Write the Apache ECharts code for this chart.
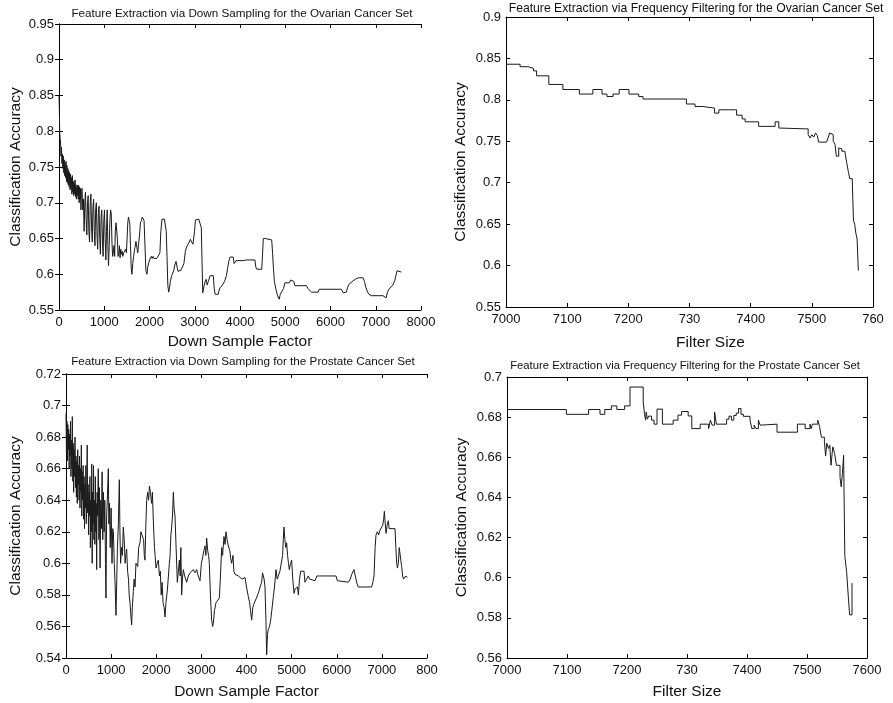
<!DOCTYPE html>
<html>
<head>
<meta charset="utf-8">
<script src="https://cdn.jsdelivr.net/npm/echarts@6/dist/echarts.min.js"></script>
<style>
	html, body { margin: 0; padding: 0; background: #fff; }
	#chart { width: 893px; height: 703px; }
</style>
</head>
<body>
<div id="chart"></div>
<script>
	// ---- ovarian, down sampling (top left)
	var ovDsX = [0, 8, 15, 25, 35, 45, 55, 65, 75, 85, 95, 105, 115, 125, 135, 145, 155, 165, 175, 185, 195,
		205, 215, 225, 235, 245, 255, 265, 275, 285, 295, 305, 315, 325, 335, 345, 355, 365, 375, 385, 395,
		405, 415, 425, 435, 445, 455, 465, 475, 485, 495,
		510, 525, 540, 555, 570, 585, 600, 615, 630, 645, 660, 675, 690, 705, 720, 735, 750, 765, 780, 795,
		810, 825, 840, 855, 870, 885, 900, 915, 930, 945, 960, 975, 990, 1005, 1020, 1035, 1050, 1065, 1080, 1094,
		1110, 1125, 1140, 1155, 1170, 1185, 1200, 1215, 1230, 1245, 1260, 1275, 1290, 1305, 1320, 1335, 1350, 1365,
		1380, 1395, 1410, 1430, 1450, 1470, 1490, 1505, 1520, 1535, 1550, 1565, 1580, 1595, 1611, 1630, 1650, 1670,
		1685, 1700, 1720, 1740, 1760, 1780, 1800, 1820, 1840, 1860, 1880, 1900, 1920, 1944, 1960, 1980, 2000, 2020,
		2040, 2060, 2080, 2100, 2128, 2160, 2200, 2230, 2250, 2276, 2300, 2330, 2350, 2370, 2387, 2405, 2424, 2445,
		2460, 2490, 2510, 2535, 2560, 2586, 2610, 2630, 2660, 2700, 2734, 2760, 2793, 2820, 2850, 2880, 2904, 2930,
		2960, 2978, 2995, 3015, 3050, 3090, 3126, 3145, 3160, 3177, 3206, 3230, 3250, 3275, 3300, 3340, 3380, 3410,
		3430, 3450, 3520, 3540, 3560, 3600, 3630, 3660, 3700, 3730, 3760, 3780, 3850, 3870, 3890, 3910, 4070, 4090,
		4110, 4150, 4330, 4350, 4370, 4480, 4500, 4515, 4560, 4590, 4700, 4720, 4735, 4760, 4794, 4830, 4850, 4867,
		4890, 4920, 4960, 4992, 5090, 5120, 5160, 5190, 5213, 5470, 5500, 5580, 5727, 5750, 6240, 6280, 6350, 6380,
		6410, 6450, 6500, 6550, 6610, 6720, 6750, 6780, 6820, 6850, 6900, 7160, 7230, 7260, 7290, 7370, 7420, 7470,
		7510, 7565];
	var ovDsY = [0.85, 0.83, 0.80, 0.79, 0.785, 0.765, 0.778, 0.755, 0.768, 0.748, 0.765, 0.742, 0.76, 0.738, 0.755, 0.735, 0.758, 0.73, 0.752, 0.728, 0.748,
		0.725, 0.745, 0.722, 0.742, 0.718, 0.74, 0.72, 0.735, 0.712, 0.738, 0.715, 0.73, 0.71, 0.728, 0.712, 0.732, 0.708, 0.725, 0.705, 0.722,
		0.71, 0.725, 0.705, 0.724, 0.70, 0.722, 0.705, 0.72, 0.69, 0.716,
		0.72, 0.69, 0.705, 0.66, 0.70, 0.715, 0.675, 0.655, 0.70, 0.71, 0.66, 0.645, 0.70, 0.712, 0.665, 0.645, 0.695, 0.705, 0.66, 0.64,
		0.69, 0.70, 0.655, 0.635, 0.685, 0.695, 0.65, 0.628, 0.68, 0.69, 0.645, 0.625, 0.675, 0.69, 0.65, 0.62, 0.66, 0.69, 0.64, 0.612,
		0.64, 0.675, 0.69, 0.685, 0.645, 0.625, 0.63, 0.64, 0.625, 0.66, 0.672, 0.674, 0.65, 0.625, 0.628, 0.64, 0.623, 0.635,
		0.628, 0.632, 0.625, 0.63, 0.628, 0.635, 0.63, 0.65, 0.672, 0.68, 0.681, 0.67, 0.64, 0.61, 0.60, 0.615, 0.625, 0.635,
		0.639, 0.646, 0.646, 0.63, 0.632, 0.655, 0.672, 0.675, 0.68, 0.681, 0.675, 0.64, 0.605, 0.60, 0.61, 0.611, 0.62, 0.618,
		0.625, 0.622, 0.625, 0.622, 0.624, 0.622, 0.623, 0.63, 0.66, 0.677, 0.678, 0.677, 0.675, 0.66, 0.625, 0.585, 0.575, 0.582,
		0.59, 0.598, 0.60, 0.605, 0.613, 0.618, 0.61, 0.604, 0.606, 0.606, 0.607, 0.615, 0.632, 0.638, 0.642, 0.645, 0.649, 0.645,
		0.642, 0.642, 0.66, 0.676, 0.678, 0.677, 0.676, 0.665, 0.62, 0.574, 0.584, 0.59, 0.593, 0.585, 0.59, 0.598, 0.596, 0.598,
		0.58, 0.572, 0.572, 0.578, 0.581, 0.584, 0.584, 0.59, 0.598, 0.61, 0.62, 0.624, 0.624, 0.615, 0.614, 0.619, 0.619, 0.617,
		0.618, 0.62, 0.62, 0.61, 0.607, 0.607, 0.63, 0.65, 0.65, 0.648, 0.648, 0.63, 0.612, 0.59, 0.579, 0.57, 0.568, 0.565,
		0.572, 0.574, 0.58, 0.588, 0.588, 0.592, 0.594, 0.59, 0.584, 0.584, 0.58, 0.575, 0.575, 0.579, 0.579, 0.574, 0.575, 0.582,
		0.586, 0.588, 0.591, 0.593, 0.595, 0.595, 0.59, 0.582, 0.575, 0.572, 0.57, 0.57, 0.567, 0.575, 0.579, 0.584, 0.591, 0.605,
		0.607, 0.603];
	var ovDsXTicks = ['0', '1000', '2000', '3000', '4000', '5000', '6000', '7000', '8000'];
	var ovDsYTicks = ['0.55', '0.6', '0.65', '0.7', '0.75', '0.8', '0.85', '0.9', '0.95'];

	// ---- ovarian, frequency filtering (top right), step values
	var ovFfX = [7000, 7023, 7036, 7045, 7050, 7070, 7093, 7120, 7142, 7157, 7165, 7175, 7185, 7201, 7217, 7224, 7295, 7309,
		7322, 7341, 7348, 7364, 7377, 7386, 7391, 7413, 7440, 7446, 7448, 7490, 7494, 7497, 7500, 7503, 7506, 7509, 7511,
		7524, 7527, 7529, 7532, 7535, 7538, 7540, 7542, 7544, 7546, 7549, 7554, 7557, 7560, 7562, 7566, 7568, 7570, 7572,
		7574, 7576];
	var ovFfY = [0.843, 0.84, 0.838, 0.835, 0.829, 0.8186, 0.8125, 0.807, 0.8125, 0.807, 0.804, 0.807, 0.8125, 0.807, 0.804, 0.801, 0.795, 0.792,
		0.79, 0.784, 0.788, 0.788, 0.7815, 0.777, 0.7735, 0.768, 0.7735, 0.766, 0.765, 0.765, 0.758, 0.754, 0.758, 0.755, 0.76, 0.757, 0.749,
		0.749, 0.755, 0.76, 0.758, 0.75, 0.746, 0.732, 0.732, 0.742, 0.741, 0.738, 0.736, 0.724, 0.712, 0.705, 0.703, 0.655, 0.65, 0.639,
		0.632, 0.594];
	var ovFfXTicks = ['7000', '7100', '7200', '730', '7400', '7500', '760'];
	var ovFfYTicks = ['0.55', '0.6', '0.65', '0.7', '0.75', '0.8', '0.85', '0.9'];

	// ---- prostate, down sampling (bottom left)
	var prDsX = [0, 10, 20, 30, 40, 50, 60, 70, 80, 90, 100, 110, 120, 130, 140, 150, 160, 170, 180, 190,
		200, 210, 220, 230, 240, 250, 260, 270, 280, 290, 300, 310, 320, 330, 340, 350, 360, 370, 380, 390,
		400, 410, 420, 430, 440, 450, 460, 470, 480, 490, 500, 510, 520, 530, 540, 550, 560, 570, 580, 590,
		600, 610, 620, 630, 640, 650, 660, 670, 680, 690, 700, 715, 730, 740, 755, 770, 785, 800, 815, 830,
		845, 860, 875, 886, 900, 915, 938, 950, 965, 980, 1000, 1020, 1035, 1050, 1070, 1090, 1108, 1125, 1140, 1160,
		1182, 1195, 1210, 1230, 1250, 1270, 1290, 1310, 1325, 1344, 1365, 1385, 1400, 1418, 1440, 1455, 1470, 1492, 1510, 1530,
		1550, 1566, 1590, 1610, 1640, 1660, 1692, 1720, 1735, 1750, 1770, 1788, 1810, 1830, 1850, 1870, 1898, 1915, 1935, 1960,
		1975, 1995, 2020, 2046, 2070, 2090, 2110, 2130, 2150, 2175, 2194, 2215, 2246, 2270, 2290, 2305, 2325, 2342, 2360, 2379,
		2395, 2416, 2440, 2467, 2490, 2512, 2530, 2545, 2563, 2580, 2600, 2630, 2674, 2710, 2750, 2785, 2820, 2860, 2896, 2930,
		2970, 3000, 3030, 3055, 3080, 3100, 3117, 3140, 3160, 3176, 3200, 3228, 3250, 3265, 3290, 3324, 3360, 3398, 3420, 3450,
		3470, 3501, 3525, 3546, 3570, 3598, 3630, 3650, 3671, 3700, 3720, 3745, 3780, 3820, 3856, 3900, 3940, 3967, 4000, 4040,
		4070, 4090, 4114, 4140, 4160, 4188, 4220, 4262, 4300, 4336, 4355, 4373, 4390, 4410, 4430, 4447, 4465, 4484, 4510, 4536,
		4560, 4595, 4620, 4654, 4680, 4705, 4740, 4779, 4800, 4815, 4831, 4850, 4870, 4890, 4910, 4930, 4949, 4975, 5001, 5025,
		5053, 5080, 5112, 5130, 5149, 5175, 5200, 5223, 5274, 5296, 5330, 5370, 5400, 5444, 5518, 5560, 5614, 5984, 6013, 6257,
		6300, 6331, 6382, 6400, 6427, 6450, 6478, 6774, 6800, 6826, 6850, 6870, 6900, 6930, 6958, 6985, 7018, 7040, 7055, 7075,
		7092, 7115, 7143, 7160, 7180, 7225, 7291, 7310, 7328, 7345, 7365, 7385, 7402, 7420, 7439, 7460, 7480, 7498, 7530, 7564];
	var prDsY = [0.695, 0.67, 0.69, 0.665, 0.688, 0.672, 0.685, 0.66, 0.682, 0.668, 0.69, 0.655, 0.678, 0.66, 0.693, 0.652, 0.676, 0.645, 0.672, 0.655,
		0.68, 0.648, 0.668, 0.642, 0.665, 0.638, 0.672, 0.65, 0.662, 0.64, 0.668, 0.635, 0.66, 0.645, 0.675, 0.63, 0.658, 0.64, 0.662, 0.628,
		0.655, 0.622, 0.65, 0.635, 0.662, 0.625, 0.648, 0.675, 0.632, 0.65, 0.618, 0.645, 0.63, 0.655, 0.61, 0.64, 0.62, 0.663, 0.60, 0.645,
		0.625, 0.662, 0.615, 0.64, 0.612, 0.655, 0.62, 0.638, 0.596, 0.645, 0.63, 0.66, 0.615, 0.648, 0.597, 0.64, 0.622, 0.658, 0.615, 0.645,
		0.62, 0.64, 0.60, 0.578, 0.63, 0.64, 0.66, 0.625, 0.638, 0.61, 0.635, 0.60, 0.622, 0.62, 0.60, 0.585, 0.567, 0.59, 0.61, 0.625,
		0.653, 0.62, 0.60, 0.61, 0.605, 0.623, 0.615, 0.60, 0.605, 0.609, 0.595, 0.59, 0.58, 0.575, 0.566, 0.561, 0.572, 0.582, 0.59, 0.585,
		0.60, 0.60, 0.598, 0.61, 0.613, 0.62, 0.619, 0.615, 0.605, 0.602, 0.625, 0.64, 0.645, 0.64, 0.649, 0.645, 0.638, 0.645, 0.627, 0.61,
		0.605, 0.597, 0.60, 0.602, 0.592, 0.595, 0.58, 0.588, 0.575, 0.572, 0.566, 0.575, 0.583, 0.592, 0.60, 0.604, 0.618, 0.623, 0.63, 0.645,
		0.635, 0.63, 0.61, 0.588, 0.595, 0.602, 0.592, 0.61, 0.58, 0.59, 0.596, 0.592, 0.588, 0.592, 0.594, 0.594, 0.596, 0.594, 0.596, 0.592,
		0.589, 0.60, 0.604, 0.608, 0.611, 0.605, 0.616, 0.608, 0.605, 0.60, 0.58, 0.564, 0.56, 0.562, 0.57, 0.575, 0.576, 0.578, 0.59, 0.61,
		0.605, 0.617, 0.612, 0.62, 0.615, 0.611, 0.608, 0.603, 0.60, 0.605, 0.595, 0.593, 0.594, 0.592, 0.592, 0.59, 0.59, 0.591, 0.585, 0.579,
		0.575, 0.57, 0.564, 0.572, 0.574, 0.575, 0.578, 0.581, 0.585, 0.588, 0.594, 0.592, 0.59, 0.585, 0.565, 0.542, 0.555, 0.558, 0.56, 0.564,
		0.57, 0.579, 0.585, 0.596, 0.59, 0.592, 0.595, 0.596, 0.605, 0.615, 0.623, 0.615, 0.61, 0.613, 0.605, 0.60, 0.596, 0.60, 0.602, 0.59,
		0.581, 0.584, 0.583, 0.585, 0.58, 0.59, 0.595, 0.595, 0.595, 0.588, 0.59, 0.592, 0.59, 0.589, 0.589, 0.592, 0.592, 0.592, 0.589, 0.588,
		0.59, 0.593, 0.596, 0.595, 0.59, 0.587, 0.585, 0.585, 0.588, 0.592, 0.61, 0.618, 0.62, 0.618, 0.621, 0.62, 0.624, 0.628, 0.633, 0.625,
		0.619, 0.624, 0.627, 0.622, 0.621, 0.622, 0.622, 0.61, 0.60, 0.597, 0.60, 0.61, 0.611, 0.602, 0.598, 0.592, 0.59, 0.589, 0.592, 0.591];
	var prDsXTicks = ['0', '1000', '2000', '3000', '400', '5000', '6000', '7000', '800'];
	var prDsYTicks = ['0.54', '0.56', '0.58', '0.6', '0.62', '0.64', '0.66', '0.68', '0.7', '0.72'];

	// ---- prostate, frequency filtering (bottom right), step values
	var prFfX = [7000, 7099, 7136, 7155, 7163, 7174, 7183, 7196, 7205, 7227, 7229, 7231, 7232, 7234, 7236, 7241, 7245, 7250,
		7259, 7277, 7285, 7291, 7302, 7308, 7322, 7336, 7339, 7342, 7346, 7349, 7366, 7370, 7374, 7378, 7382, 7386, 7390,
		7394, 7405, 7408, 7412, 7415, 7419, 7422, 7425, 7450, 7484, 7497, 7505, 7507, 7509, 7518, 7521, 7524, 7529, 7531,
		7533, 7536, 7538, 7540, 7543, 7546, 7549, 7552, 7555, 7557, 7559, 7561, 7563, 7566, 7569, 7571, 7575];
	var prFfY = [0.6838, 0.6814, 0.6838, 0.6814, 0.6838, 0.6856, 0.6838, 0.6856, 0.695, 0.6876, 0.682, 0.6785, 0.6825, 0.679, 0.6805, 0.6785, 0.6765, 0.684,
		0.6765, 0.6785, 0.681, 0.6828, 0.6806, 0.6743, 0.6765, 0.6743, 0.6785, 0.676, 0.6826, 0.6765, 0.679, 0.6805, 0.6785, 0.6808, 0.682, 0.6843, 0.6814,
		0.6804, 0.6785, 0.6743, 0.676, 0.6743, 0.6785, 0.676, 0.6765, 0.6725, 0.6765, 0.6743, 0.6765, 0.6743, 0.6765, 0.6785, 0.6752, 0.670, 0.668, 0.6606,
		0.667, 0.6644, 0.666, 0.656, 0.6652, 0.662, 0.656, 0.656, 0.65, 0.6453, 0.652, 0.661, 0.611, 0.603, 0.59, 0.5815, 0.5973];
	var prFfXTicks = ['7000', '7100', '7200', '730', '7400', '7500', '7600'];
	var prFfYTicks = ['0.56', '0.58', '0.6', '0.62', '0.64', '0.66', '0.68', '0.7'];

	var FONT = '"Liberation Sans", Arial, sans-serif';
	var INK = '#111';

	function pairs(xs, ys) {
		return xs.map(function (x, i) { return [x, ys[i]]; });
	}

	var panels = [{
		title: 'Feature Extraction via Down Sampling for the Ovarian Cancer Set',
		titleX: 242, titleY: 8, titleSize: 11.7,
		grid: { left: 59, top: 24, width: 362, height: 286 },
		xMin: 0, xMax: 8000, xStep: 1000, xTicks: ovDsXTicks,
		yMin: 0.55, yMax: 0.95, yStep: 0.05, yTicks: ovDsYTicks,
		xName: 'Down Sample Factor', xGap: 24, xShift: 0, yGap: 35,
		data: pairs(ovDsX, ovDsY), step: false
	}, {
		title: 'Feature Extraction via Frequency Filtering for the Ovarian Cancer Set',
		titleX: 696, titleY: 3, titleSize: 12.2,
		grid: { left: 506, top: 17, width: 367, height: 290 },
		xMin: 7000, xMax: 7600, xStep: 100, xTicks: ovFfXTicks,
		yMin: 0.55, yMax: 0.9, yStep: 0.05, yTicks: ovFfYTicks,
		xName: 'Filter Size', xGap: 28, xShift: 42, yGap: 37,
		data: pairs(ovFfX, ovFfY), step: 'end'
	}, {
		title: 'Feature Extraction via Down Sampling for the Prostate Cancer Set',
		titleX: 243, titleY: 356, titleSize: 11.7,
		grid: { left: 66, top: 374, width: 361, height: 284 },
		xMin: 0, xMax: 8000, xStep: 1000, xTicks: prDsXTicks,
		yMin: 0.54, yMax: 0.72, yStep: 0.02, yTicks: prDsYTicks,
		xName: 'Down Sample Factor', xGap: 26, xShift: 0, yGap: 42,
		data: pairs(prDsX, prDsY), step: false
	}, {
		title: 'Feature Extraction via Frequency Filtering for the Prostate Cancer Set',
		titleX: 685, titleY: 360, titleSize: 11.3,
		grid: { left: 507, top: 377, width: 360, height: 281 },
		xMin: 7000, xMax: 7600, xStep: 100, xTicks: prFfXTicks,
		yMin: 0.56, yMax: 0.7, yStep: 0.02, yTicks: prFfYTicks,
		xName: 'Filter Size', xGap: 26, xShift: 0, yGap: 37,
		data: pairs(prFfX, prFfY), step: 'end'
	}];

	var option = {
		animation: false,
		backgroundColor: '#fff',
		title: [], grid: [], xAxis: [], yAxis: [], series: []
	};

	var lineStyle = { color: '#000', width: 1 };
	var tickStyle = { show: true, inside: true, length: 4, lineStyle: { color: '#000', width: 1 } };

	panels.forEach(function (p, i) {
		option.title.push({
			text: p.title, left: p.titleX, top: p.titleY, textAlign: 'center', padding: 0,
			textStyle: { fontFamily: FONT, fontSize: p.titleSize, fontWeight: 'normal', color: INK }
		});
		option.grid.push(p.grid);

		var xLabel = function (v) { return p.xTicks[Math.round((v - p.xMin) / p.xStep)]; };
		var yLabel = function (v) { return p.yTicks[Math.round((v - p.yMin) / p.yStep)]; };

		// bottom and left axes carry labels
		option.xAxis.push({
			type: 'value', gridIndex: i, position: 'bottom',
			min: p.xMin, max: p.xMax, interval: p.xStep,
			name: p.xName, nameLocation: 'middle', nameGap: p.xGap,
			nameTextStyle: { fontFamily: FONT, fontSize: 15.5, color: INK, padding: [0, 0, 0, p.xShift] },
			axisLine: { show: true, lineStyle: lineStyle }, axisTick: tickStyle,
			axisLabel: { fontFamily: FONT, fontSize: 13, color: INK, margin: 6, formatter: xLabel, showMinLabel: true, showMaxLabel: true },
			splitLine: { show: false }
		});
		option.yAxis.push({
			type: 'value', gridIndex: i, position: 'left',
			min: p.yMin, max: p.yMax, interval: p.yStep,
			name: 'Classification Accuracy', nameLocation: 'middle', nameGap: p.yGap,
			nameTextStyle: { fontFamily: FONT, fontSize: 15.5, color: INK },
			axisLine: { show: true, lineStyle: lineStyle }, axisTick: tickStyle,
			axisLabel: { fontFamily: FONT, fontSize: 13, color: INK, margin: 5, formatter: yLabel, showMinLabel: true, showMaxLabel: true },
			splitLine: { show: false }
		});
	});

	// mirrored box: top and right axes with ticks only
	panels.forEach(function (p, i) {
		option.xAxis.push({
			type: 'value', gridIndex: i, position: 'top',
			min: p.xMin, max: p.xMax, interval: p.xStep,
			axisLine: { show: true, lineStyle: lineStyle }, axisTick: tickStyle,
			axisLabel: { show: false }, splitLine: { show: false }
		});
		option.yAxis.push({
			type: 'value', gridIndex: i, position: 'right',
			min: p.yMin, max: p.yMax, interval: p.yStep,
			axisLine: { show: true, lineStyle: lineStyle }, axisTick: tickStyle,
			axisLabel: { show: false }, splitLine: { show: false }
		});
		option.series.push({
			type: 'line', xAxisIndex: i, yAxisIndex: i,
			data: p.data, step: p.step, showSymbol: false, symbol: 'none',
			lineStyle: { color: '#1a1a1a', width: 1 },
			silent: true
		});
	});

	var chart = echarts.init(document.getElementById('chart'), null, { renderer: 'canvas' });
	chart.setOption(option);
</script>
</body>
</html>
